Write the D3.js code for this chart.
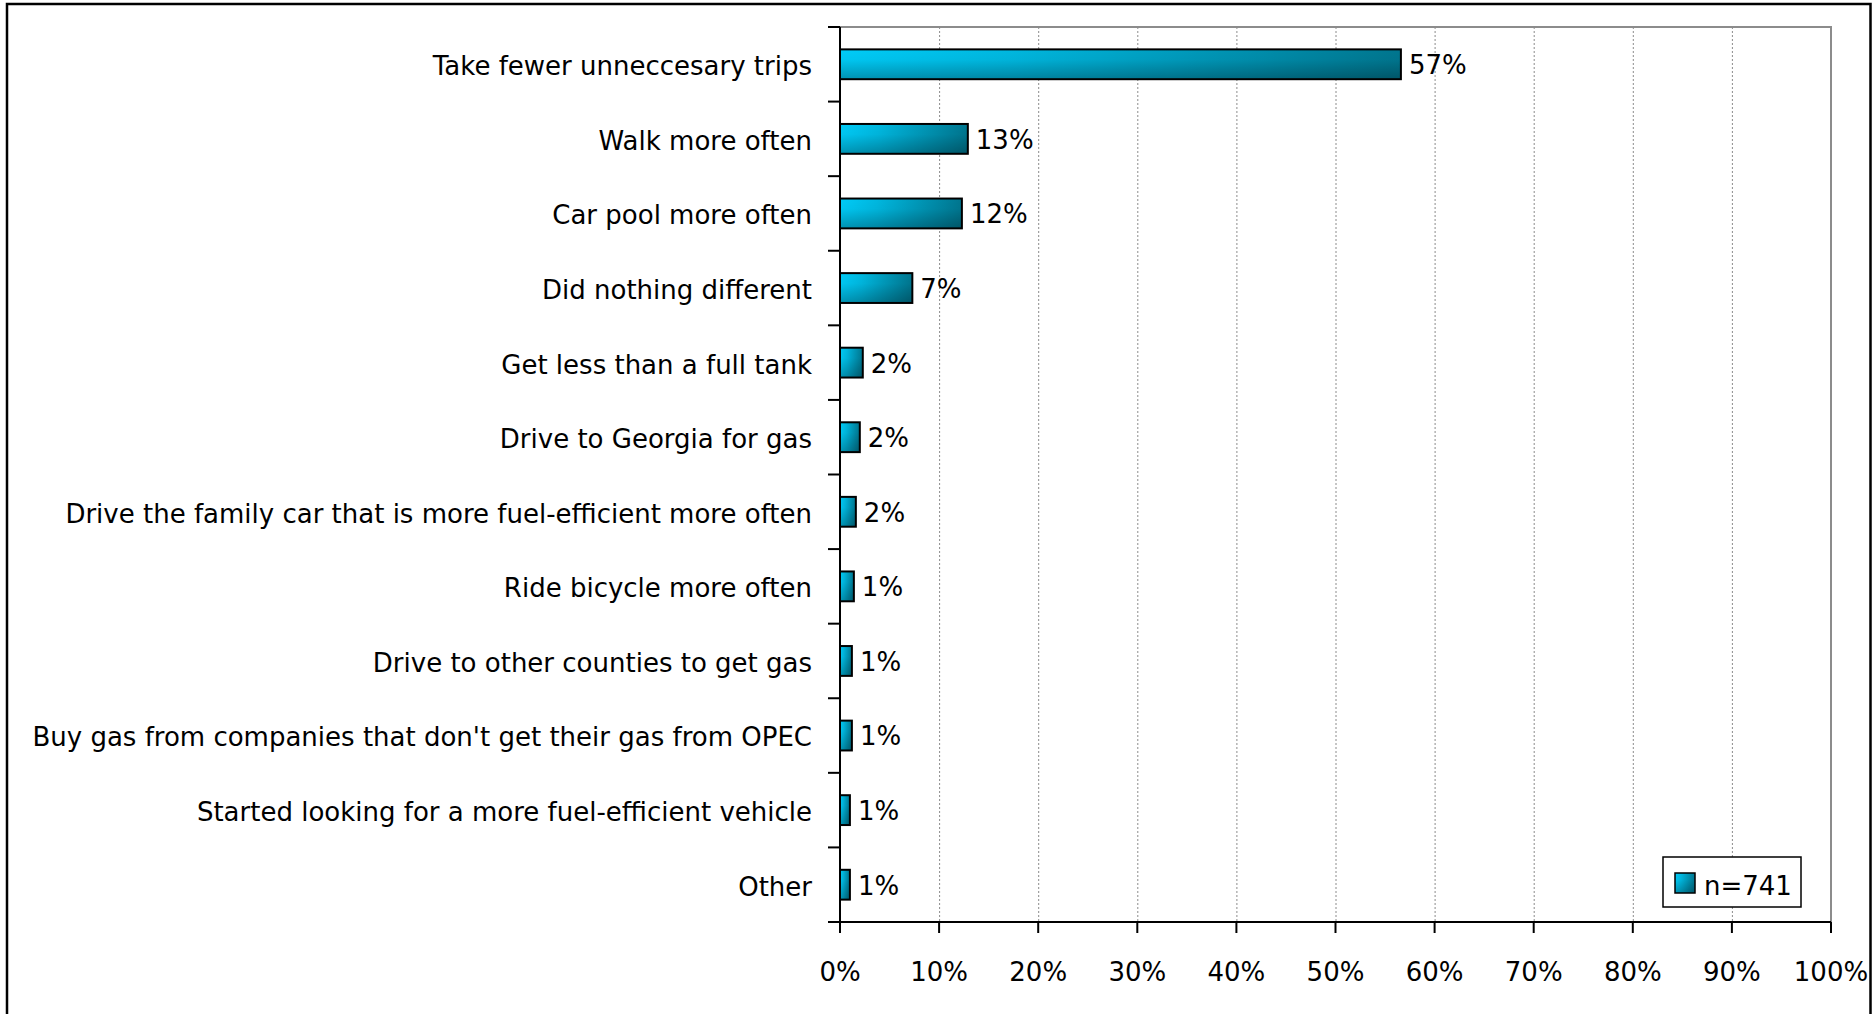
<!DOCTYPE html>
<html>
<head>
<meta charset="utf-8">
<script src="https://cdn.jsdelivr.net/npm/d3@7"></script>
<style>
  html, body { margin: 0; padding: 0; background: #fff; }
  svg { display: block; }
  text { font-family: "DejaVu Sans", sans-serif; fill: #000; }
</style>
</head>
<body>
<svg id="chart" width="1872" height="1014"></svg>
<script>
const categories = [
  "Take fewer unneccesary trips",
  "Walk more often",
  "Car pool more often",
  "Did nothing different",
  "Get less than a full tank",
  "Drive to Georgia for gas",
  "Drive the family car that is more fuel-efficient more often",
  "Ride bicycle more often",
  "Drive to other counties to get gas",
  "Buy gas from companies that don't get their gas from OPEC",
  "Started looking for a more fuel-efficient vehicle",
  "Other"
];
const values = [56.6, 12.9, 12.3, 7.3, 2.3, 2.0, 1.6, 1.4, 1.2, 1.2, 1.0, 1.0];
const xTicks = [0, 10, 20, 30, 40, 50, 60, 70, 80, 90, 100];
const legendLabel = "n=741";

const svg = d3.select("#chart");
const FS = 26;

// outer frame
svg.append("rect").attr("x", 7).attr("y", 4).attr("width", 1863.5).attr("height", 1020)
  .attr("fill", "none").attr("stroke", "#000").attr("stroke-width", 2.5);

const pL = 840, pR = 1831, pT = 27, pB = 922;
const x = d3.scaleLinear().domain([0, 100]).range([pL, pR]);
const y = d3.scaleBand().domain(categories).range([pT, pB]).paddingInner(0.6).paddingOuter(0.3);

// gradients
const defs = svg.append("defs");
const gh = defs.append("linearGradient").attr("id", "gh").attr("x1", 0).attr("x2", 1).attr("y1", 0).attr("y2", 0);
gh.append("stop").attr("offset", "0%").attr("stop-color", "#00CCF8");
gh.append("stop").attr("offset", "30%").attr("stop-color", "#00B8E0");
gh.append("stop").attr("offset", "100%").attr("stop-color", "#00768F");
const gv = defs.append("linearGradient").attr("id", "gv").attr("x1", 0).attr("x2", 0).attr("y1", 0).attr("y2", 1);
gv.append("stop").attr("offset", "0%").attr("stop-color", "#000").attr("stop-opacity", 0);
gv.append("stop").attr("offset", "35%").attr("stop-color", "#000").attr("stop-opacity", 0.03);
gv.append("stop").attr("offset", "100%").attr("stop-color", "#000").attr("stop-opacity", 0.28);

// gridlines
svg.append("g").selectAll("line").data(xTicks.filter(d => d > 0 && d < 100)).join("line")
  .attr("x1", d => x(d) + 0.5).attr("x2", d => x(d) + 0.5)
  .attr("y1", pT).attr("y2", pB)
  .attr("stroke", "#8c8c8c").attr("stroke-width", 1).attr("stroke-dasharray", "2,2");
// plot area top/right border
svg.append("path").attr("d", `M${pL},${pT}H${pR}V${pB}`)
  .attr("fill", "none").attr("stroke", "#8c8c8c").attr("stroke-width", 2);

// bars
const bars = svg.append("g").selectAll("g").data(categories).join("g");
bars.append("rect")
  .attr("x", x(0)).attr("y", d => y(d))
  .attr("width", (d, i) => x(values[i]) - x(0)).attr("height", y.bandwidth())
  .attr("fill", "url(#gh)");
bars.append("rect")
  .attr("x", x(0)).attr("y", d => y(d))
  .attr("width", (d, i) => x(values[i]) - x(0)).attr("height", y.bandwidth())
  .attr("fill", "url(#gv)").attr("stroke", "#000").attr("stroke-width", 2);

// value labels
svg.append("g").selectAll("text").data(categories).join("text")
  .attr("x", (d, i) => x(values[i]) + 8)
  .attr("y", d => y(d) + y.bandwidth() / 2)
  .attr("dy", "0.38em")
  .attr("font-size", FS)
  .text((d, i) => Math.round(values[i]) + "%");

// y axis
const yAxis = svg.append("g");
yAxis.append("line").attr("x1", pL).attr("x2", pL).attr("y1", pT).attr("y2", pB)
  .attr("stroke", "#000").attr("stroke-width", 2);
const bounds = d3.range(categories.length + 1).map(i => pT + i * y.step());
yAxis.selectAll(".yt").data(bounds).join("line").attr("class", "yt")
  .attr("x1", pL - 12).attr("x2", pL).attr("y1", d => d).attr("y2", d => d)
  .attr("stroke", "#000").attr("stroke-width", 2);
yAxis.selectAll("text").data(categories).join("text")
  .attr("x", 812).attr("y", d => y(d) + y.bandwidth() / 2).attr("dy", "0.42em")
  .attr("text-anchor", "end").attr("font-size", FS).text(d => d);

// x axis
const xAxis = svg.append("g");
xAxis.append("line").attr("x1", pL - 12).attr("x2", pR).attr("y1", pB).attr("y2", pB)
  .attr("stroke", "#000").attr("stroke-width", 2);
xAxis.selectAll(".xt").data(xTicks).join("line").attr("class", "xt")
  .attr("x1", d => x(d)).attr("x2", d => x(d)).attr("y1", pB).attr("y2", pB + 11)
  .attr("stroke", "#000").attr("stroke-width", 2);
xAxis.selectAll("text").data(xTicks).join("text")
  .attr("x", d => x(d)).attr("y", 981).attr("text-anchor", "middle").attr("font-size", FS)
  .text(d => d + "%");

// legend
const lg = svg.append("g");
lg.append("rect").attr("x", 1663).attr("y", 857).attr("width", 138).attr("height", 50)
  .attr("fill", "#fff").attr("stroke", "#000").attr("stroke-width", 1.5);
lg.append("rect").attr("x", 1675).attr("y", 873).attr("width", 20).attr("height", 20).attr("fill", "url(#gh)");
lg.append("rect").attr("x", 1675).attr("y", 873).attr("width", 20).attr("height", 20)
  .attr("fill", "url(#gv)").attr("stroke", "#000").attr("stroke-width", 1.5);
lg.append("text").attr("x", 1704).attr("y", 895).attr("font-size", FS).text(legendLabel);
</script>
</body>
</html>
